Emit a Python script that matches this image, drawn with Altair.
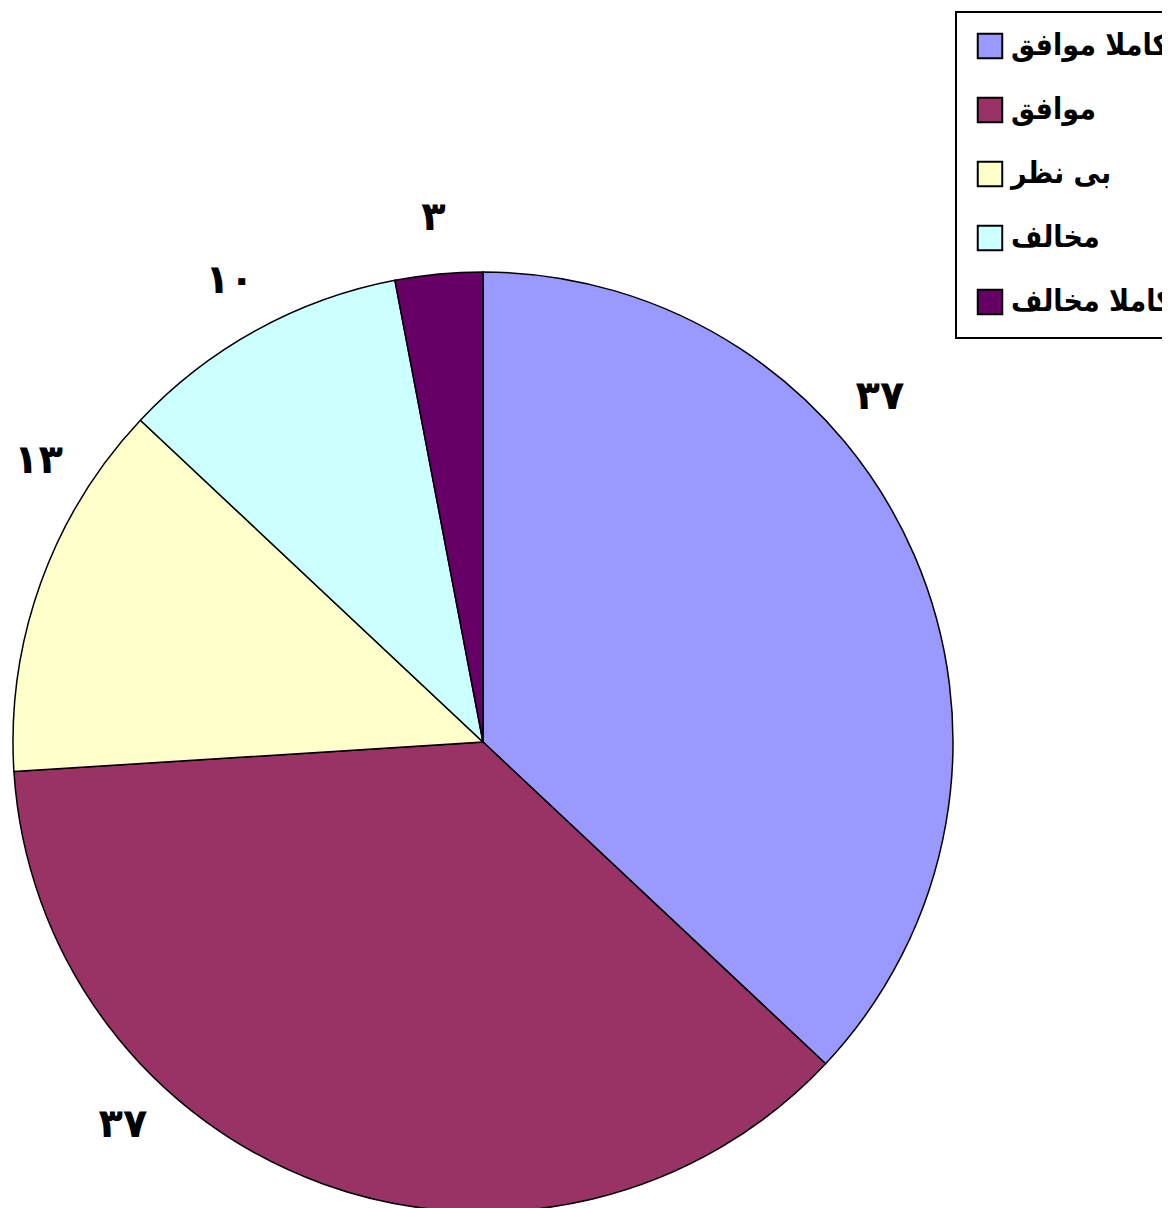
import math
import altair as alt
import pandas as pd

categories = ["کاملا موافق", "موافق", "بی نظر", "مخالف", "کاملا مخالف"]
values = [37, 37, 13, 10, 3]
value_labels = ["۳۷", "۳۷", "۱۳", "۱۰", "۳"]
colors = ["#9999FF", "#993366", "#FFFFCC", "#CCFFFF", "#660066"]

W, H = 1154, 1200
cx, cy = 475, 734
R_PIE = 470
R_LBL = 526
# keep-in area for label centres (chart pixels): left of the legend column,
# inside the left and bottom edges
X_MIN, X_MAX, Y_MAX = 30, 872, 1118


def inside(a):
    rad = math.radians(a)
    x = cx + R_LBL * math.sin(rad)
    y = cy - R_LBL * math.cos(rad)
    return X_MIN <= x <= X_MAX and y <= Y_MAX


def label_angle(mid):
    # nearest angle to the slice middle whose label stays inside the area
    for step in range(0, 1800):
        for s in (step * 0.1, -step * 0.1):
            if inside(mid + s):
                return (mid + s) % 360
    return mid


total = sum(values)
mids, acc = [], 0.0
for v in values:
    mids.append((acc + v / 2) / total * 360)
    acc += v

df = pd.DataFrame({
    "cat": categories,
    "val": values,
    "lbl": value_labels,
    "idx": list(range(len(categories))),
    "ang": [label_angle(m) for m in mids],
})

LEGEND_FONT = "'DejaVu Sans Condensed', 'DejaVu Sans'"

pie = alt.Chart(df).mark_arc(outerRadius=R_PIE, stroke="black", strokeWidth=1.5).encode(
    theta=alt.Theta("val:Q", stack=True),
    order=alt.Order("idx:Q", sort="ascending"),
    x=alt.value(cx),
    y=alt.value(cy),
    color=alt.Color(
        "cat:N",
        scale=alt.Scale(domain=categories, range=colors),
        legend=alt.Legend(
            title=None,
            orient="none",
            legendX=948,
            legendY=4,
            direction="vertical",
            symbolType="square",
            symbolSize=600,
            symbolStrokeColor="black",
            symbolStrokeWidth=2,
            labelFont=LEGEND_FONT,
            labelFontSize=30,
            labelFontWeight="bold",
            labelColor="black",
            labelLimit=1000,
            labelOffset=6,
            rowPadding=30,
            padding=19,
            strokeColor="black",
            fillColor="white",
        ),
    ),
)

labels = alt.Chart(df).mark_text(
    radius=R_LBL, fontSize=40, fontWeight="bold", font="DejaVu Sans", color="black"
).encode(
    theta=alt.Theta("ang:Q", stack=False, scale=alt.Scale(domain=[0, 360], range=[0, 2 * math.pi])),
    x=alt.value(cx),
    y=alt.value(cy),
    text="lbl:N",
)

chart = (
    alt.layer(pie, labels)
    .resolve_scale(theta="independent")
    .properties(width=W, height=H, autosize=alt.AutoSizeParams(type="none"), padding=0)
    .configure_view(stroke=None)
    .configure_legend(strokeWidth=2)
)

chart.save("out.html", embed_options={"renderer": "svg", "actions": False})
